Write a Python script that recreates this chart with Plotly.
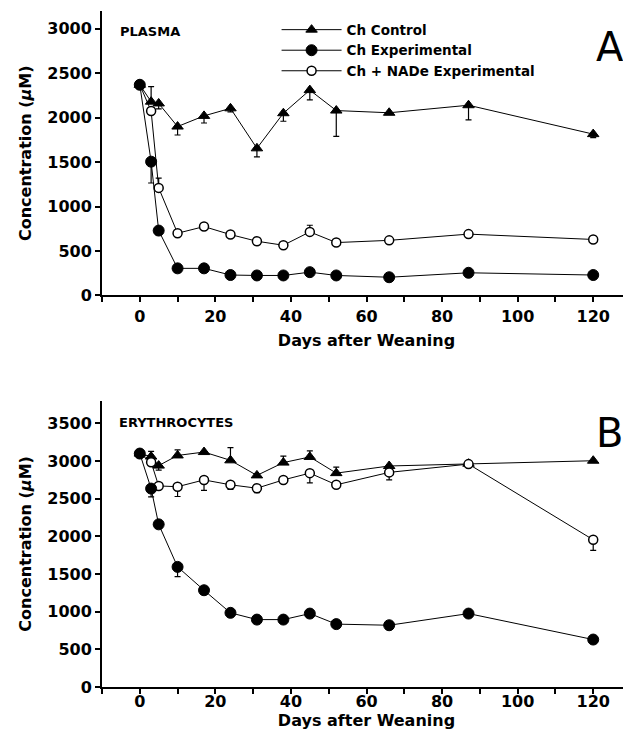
import plotly.graph_objects as go

days = [0, 3, 5, 10, 17, 24, 31, 38, 45, 52, 66, 87, 120]

# Panel A: plasma
control_a = [2370, 2180, 2160, 1900, 2020, 2105, 1655, 2050, 2310, 2080, 2055, 2140, 1815]
control_a_up = [0, 170, 0, 0, 0, 0, 0, 0, 0, 0, 0, 0, 0]
control_a_dn = [0, 0, 60, 95, 80, 40, 95, 90, 110, 290, 0, 165, 40]
exp_a = [2370, 1505, 730, 305, 305, 230, 225, 225, 262, 225, 205, 255, 230]
exp_a_up = [0, 0, 0, 0, 0, 0, 0, 0, 0, 0, 0, 0, 0]
exp_a_dn = [0, 240, 50, 0, 0, 0, 0, 0, 0, 0, 0, 0, 0]
nade_a = [2370, 2075, 1210, 700, 775, 685, 610, 565, 715, 595, 620, 690, 630]
nade_a_up = [0, 0, 110, 0, 0, 0, 0, 0, 75, 0, 0, 0, 0]
nade_a_dn = [0, 0, 0, 0, 0, 0, 0, 0, 0, 0, 0, 0, 0]

# Panel B: erythrocytes
control_b = [3100, 3060, 2940, 3075, 3120, 3010, 2810, 2980, 3055, 2840, 2935, 2965, 3005]
control_b_up = [0, 70, 0, 75, 0, 170, 0, 85, 80, 80, 0, 0, 0]
control_b_dn = [0, 0, 60, 0, 0, 0, 0, 0, 0, 0, 0, 0, 0]
exp_b = [3100, 2635, 2160, 1595, 1285, 985, 895, 895, 975, 835, 820, 975, 630]
exp_b_up = [0, 0, 0, 0, 0, 0, 0, 0, 0, 0, 0, 0, 0]
exp_b_dn = [0, 110, 40, 130, 0, 0, 0, 0, 0, 0, 0, 0, 0]
nade_b = [3100, 2985, 2670, 2660, 2750, 2685, 2640, 2750, 2840, 2685, 2850, 2960, 1955]
nade_b_up = [0, 0, 0, 0, 0, 0, 0, 0, 0, 0, 0, 0, 0]
nade_b_dn = [0, 0, 0, 130, 140, 60, 60, 0, 130, 0, 100, 0, 140]

series_names = ["Ch Control", "Ch Experimental", "Ch + NADe Experimental"]
x_tick_labels = ["0", "20", "40", "60", "80", "100", "120"]
x_tick_vals = [0, 20, 40, 60, 80, 100, 120]

FONT = "DejaVu Sans"
BLACK = "black"

styles = [
    dict(symbol="triangle-up", size=10, color=BLACK, line=dict(color=BLACK, width=1)),
    dict(symbol="circle", size=11, color=BLACK, line=dict(color=BLACK, width=1)),
    dict(symbol="circle", size=9, color="white", line=dict(color=BLACK, width=1.5)),
]

fig = go.Figure()

def add(vals, up, dn, i, xa, ya, show):
    fig.add_trace(go.Scatter(
        x=days, y=vals, mode="lines+markers", name=series_names[i],
        xaxis=xa, yaxis=ya, showlegend=show, legendrank=i + 1,
        line=dict(color=BLACK, width=1),
        marker=styles[i],
        error_y=dict(type="data", symmetric=False, array=up, arrayminus=dn,
                     color=BLACK, thickness=1.2, width=3),
    ))

# drawing order: control, NADe, experimental (filled circles on top at day 0)
add(control_a, control_a_up, control_a_dn, 0, "x", "y", True)
add(nade_a, nade_a_up, nade_a_dn, 2, "x", "y", True)
add(exp_a, exp_a_up, exp_a_dn, 1, "x", "y", True)
add(control_b, control_b_up, control_b_dn, 0, "x2", "y2", False)
add(nade_b, nade_b_up, nade_b_dn, 2, "x2", "y2", False)
add(exp_b, exp_b_up, exp_b_dn, 1, "x2", "y2", False)

tickfont = dict(family=FONT, size=16, color=BLACK, weight="bold")
titlefont = dict(family=FONT, size=16, color=BLACK, weight="bold")

def xaxis(anchor, standoff, lab_standoff):
    return dict(
        anchor=anchor, domain=[0, 1], range=[-10, 130],
        showline=True, linewidth=2, linecolor=BLACK, mirror=False,
        ticks="outside", ticklen=5, tickwidth=1.5, tickcolor=BLACK,
        tickvals=x_tick_vals, ticktext=x_tick_labels, tickfont=tickfont,
        ticklabelstandoff=lab_standoff,
        minor=dict(dtick=10, tick0=0, ticks="outside", ticklen=5, tickwidth=1.5, tickcolor=BLACK),
        showgrid=False, zeroline=False, automargin=False,
        title=dict(text="Days after Weaning", font=titlefont, standoff=standoff),
    )

def yaxis(anchor, dom, rng):
    return dict(
        anchor=anchor, domain=dom, range=rng,
        showline=True, linewidth=2, linecolor=BLACK,
        ticks="outside", ticklen=5, tickwidth=1.5, tickcolor=BLACK,
        dtick=500, tick0=0, tickfont=tickfont,
        showgrid=False, zeroline=False, automargin=False,
        title=dict(text="Concentration (<i>μ</i>M)", font=titlefont, standoff=12),
    )

fig.update_layout(
    width=623, height=722,
    margin=dict(l=94, r=0, t=3, b=43),
    paper_bgcolor="white", plot_bgcolor="white",
    xaxis=xaxis("y", 10, 0), yaxis=yaxis("x", [0.5792, 1.0], [0, 3200]),
    xaxis2=xaxis("y2", 7, -6), yaxis2=yaxis("x2", [0, 0.4233], [0, 3800]),
    showlegend=True,
    legend=dict(x=0.33, y=0.995, xanchor="left", yanchor="top",
                bgcolor="rgba(0,0,0,0)", borderwidth=0,
                font=dict(family=FONT, size=13.5, color=BLACK, weight="bold"),
                tracegroupgap=0, itemwidth=60, traceorder="normal"),
    annotations=[
        dict(text="PLASMA", x=0.030, y=0.9694, xref="paper", yref="paper",
             xanchor="left", yanchor="middle", showarrow=False,
             font=dict(family=FONT, size=13, color=BLACK, weight="bold")),
        dict(text="ERYTHROCYTES", x=0.028, y=0.3907, xref="paper", yref="paper",
             xanchor="left", yanchor="middle", showarrow=False,
             font=dict(family=FONT, size=13, color=BLACK, weight="bold")),
        dict(text="A", x=0.96, y=0.9467, xref="paper", yref="paper",
             xanchor="center", yanchor="middle", showarrow=False,
             font=dict(family=FONT, size=40, color=BLACK)),
        dict(text="B", x=0.96, y=0.3755, xref="paper", yref="paper",
             xanchor="center", yanchor="middle", showarrow=False,
             font=dict(family=FONT, size=40, color=BLACK)),
    ],
)

fig.write_html("out.html")
